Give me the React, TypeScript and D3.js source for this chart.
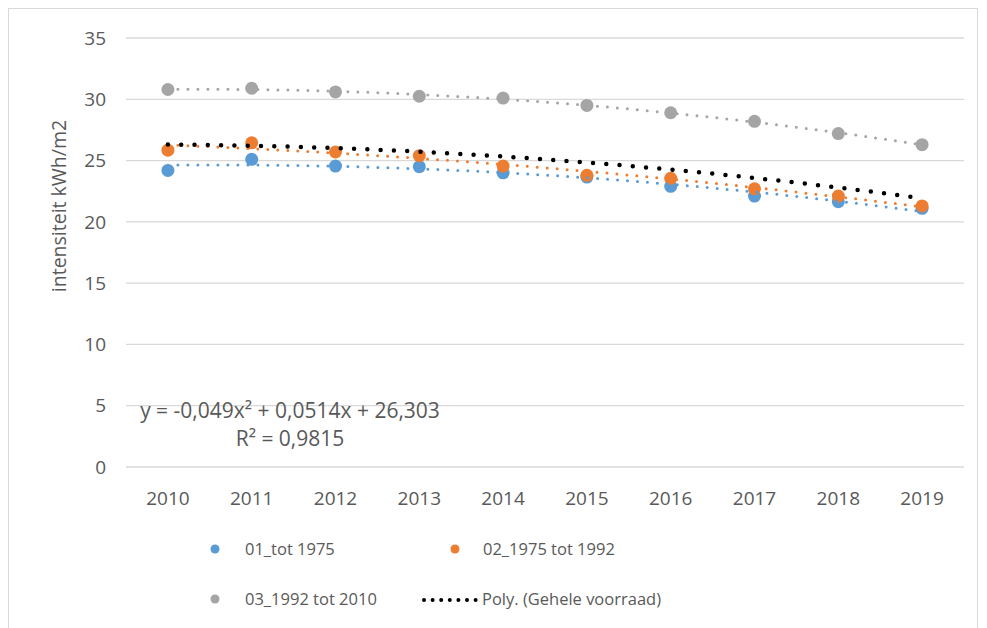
import React from "react";
import * as d3 from "d3";

const years = ["2010", "2011", "2012", "2013", "2014", "2015", "2016", "2017", "2018", "2019"];
const serie01 = [24.2, 25.1, 24.55, 24.5, 24.0, 23.65, 22.9, 22.1, 21.65, 21.1];
const serie02 = [25.85, 26.45, 25.7, 25.4, 24.55, 23.8, 23.55, 22.7, 22.1, 21.3];
const serie03 = [30.8, 30.9, 30.6, 30.25, 30.1, 29.5, 28.9, 28.2, 27.2, 26.3];
// Displayed trendline equation of "Gehele voorraad": y = a x^2 + b x + c
const polyCoefs = [-0.049, 0.0514, 26.303];
const yTicks = [0, 5, 10, 15, 20, 25, 30, 35];
const seriesNames = ["01_tot 1975", "02_1975 tot 1992", "03_1992 tot 2010"];
const trendName = "Poly. (Gehele voorraad)";
const eqLine1 = "y = -0,049x² + 0,0514x + 26,303";
const eqLine2 = "R² = 0,9815";

const colors = ["#5b9bd5", "#ed7d31", "#a5a5a5"];
const FONT = "'Open Sans', sans-serif";
const TXT = "#595959";

function quadFit(vals: number[]): number[] {
  // least squares fit y = a x^2 + b x + c with x = 1..n
  let s0 = 0, s1 = 0, s2 = 0, s3 = 0, s4 = 0, t0 = 0, t1 = 0, t2 = 0;
  vals.forEach((y, i) => {
    const x = i + 1;
    s0 += 1; s1 += x; s2 += x * x; s3 += x ** 3; s4 += x ** 4;
    t0 += y; t1 += x * y; t2 += x * x * y;
  });
  const M = [
    [s4, s3, s2, t2],
    [s3, s2, s1, t1],
    [s2, s1, s0, t0],
  ];
  for (let i = 0; i < 3; i++) {
    for (let k = i + 1; k < 3; k++) {
      const f = M[k][i] / M[i][i];
      for (let j = i; j < 4; j++) M[k][j] -= f * M[i][j];
    }
  }
  const r = [0, 0, 0];
  for (let i = 2; i >= 0; i--) {
    let s = M[i][3];
    for (let j = i + 1; j < 3; j++) s -= M[i][j] * r[j];
    r[i] = s / M[i][i];
  }
  return r;
}

export default function App() {
  const W = 987, H = 628;
  const x = d3.scaleBand<string>().domain(years).range([126, 964]);
  const y = d3.scaleLinear().domain([0, 35]).range([467, 38]);
  const xc = (i: number) => (x(years[0]) as number) + x.bandwidth() / 2 + (i - 1) * x.bandwidth();

  const curve = (coefs: number[]) => {
    const pts: [number, number][] = [];
    for (let t = 1; t <= 10.0001; t += 0.05) {
      pts.push([xc(t), y(coefs[0] * t * t + coefs[1] * t + coefs[2])]);
    }
    return d3.line()(pts) as string;
  };

  const all = [serie01, serie02, serie03];
  const fits = all.map(quadFit);
  const LFS = 16.5;

  return (
    <svg width={W} height={H} style={{ position: "fixed", left: 0, top: 0, background: "#fff" }}>
      <rect x={8.5} y={8.5} width={969} height={H} fill="#fff" stroke="#d9d9d9" strokeWidth={1} />
      {yTicks.map((t) => (
        <g key={t}>
          <line x1={126} x2={964} y1={y(t)} y2={y(t)} stroke="#d9d9d9" strokeWidth={1.3} />
          <text x={106} y={y(t)} dy="0.35em" textAnchor="end" fontFamily={FONT} fontSize={19} fill={TXT}>
            {t}
          </text>
        </g>
      ))}
      {years.map((yr) => (
        <text key={yr} x={(x(yr) as number) + x.bandwidth() / 2} y={505} textAnchor="middle" fontFamily={FONT} fontSize={19} fill={TXT}>
          {yr}
        </text>
      ))}
      <text transform={`translate(66,206) rotate(-90)`} textAnchor="middle" fontFamily={FONT} fontSize={19.5} fill={TXT}>
        intensiteit kWh/m2
      </text>
      {all.map((s, si) =>
        s.map((v, i) => (
          <circle key={`${si}-${i}`} cx={(x(years[i]) as number) + x.bandwidth() / 2} cy={y(v)} r={6.5} fill={colors[si]} />
        ))
      )}
      {fits.map((f, si) => (
        <path key={si} d={curve(f)} fill="none" stroke={colors[si]} strokeWidth={3} strokeLinecap="round" strokeDasharray="0 10" />
      ))}
      <path d={curve(polyCoefs)} fill="none" stroke="#000" strokeWidth={4.5} strokeLinecap="round" strokeDasharray="0 13.3" />
      <text x={290} y={418} textAnchor="middle" fontFamily={FONT} fontSize={21} fill={TXT}>{eqLine1}</text>
      <text x={290} y={446} textAnchor="middle" fontFamily={FONT} fontSize={21} fill={TXT}>{eqLine2}</text>
      <circle cx={215} cy={549} r={4.5} fill={colors[0]} />
      <text x={245} y={549} dy="0.35em" fontFamily={FONT} fontSize={LFS} fill={TXT}>{seriesNames[0]}</text>
      <circle cx={455} cy={549} r={4.5} fill={colors[1]} />
      <text x={483} y={549} dy="0.35em" fontFamily={FONT} fontSize={LFS} fill={TXT}>{seriesNames[1]}</text>
      <circle cx={215} cy={599} r={4.5} fill={colors[2]} />
      <text x={245} y={599} dy="0.35em" fontFamily={FONT} fontSize={LFS} fill={TXT}>{seriesNames[2]}</text>
      <line x1={424} x2={476} y1={600} y2={600} stroke="#000" strokeWidth={4} strokeLinecap="round" strokeDasharray="0 8.6" />
      <text x={482} y={599} dy="0.35em" fontFamily={FONT} fontSize={LFS} fill={TXT}>{trendName}</text>
    </svg>
  );
}
